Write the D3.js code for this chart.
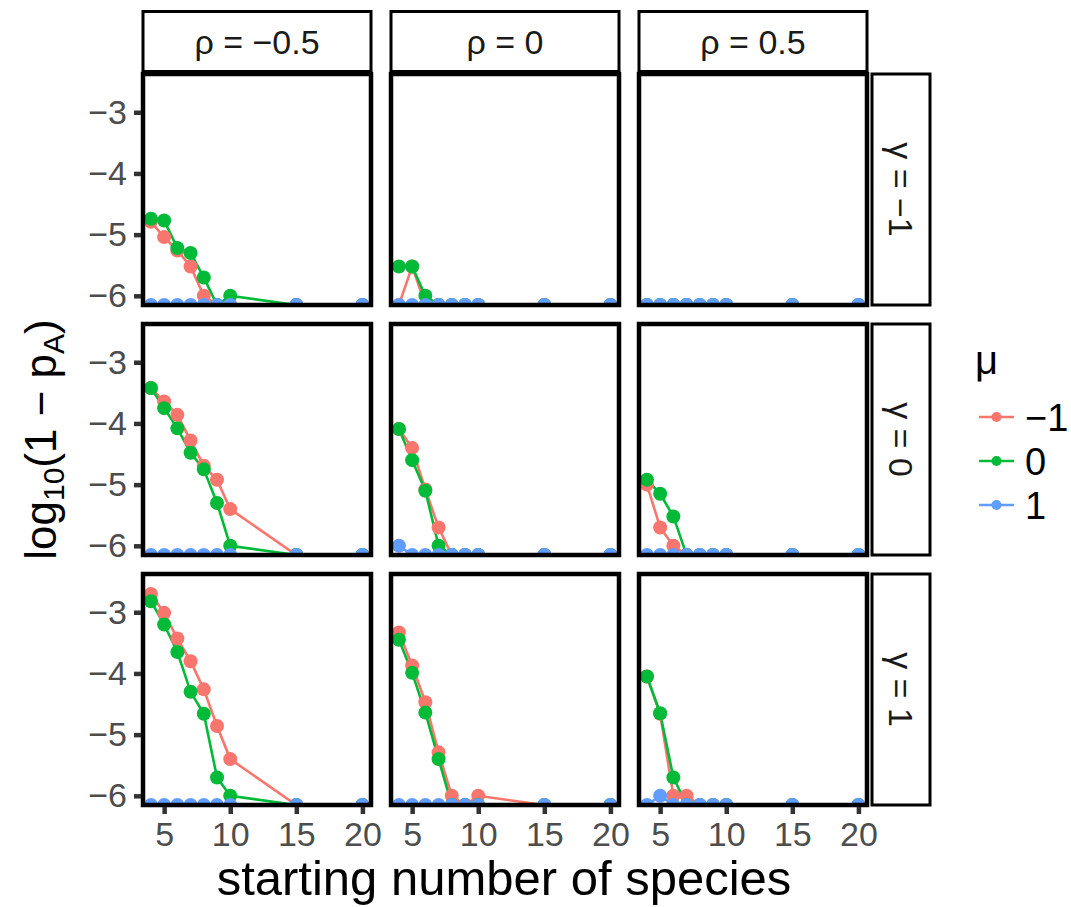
<!DOCTYPE html>
<html>
<head>
<meta charset="utf-8">
<script src="https://cdn.jsdelivr.net/npm/d3@7"></script>
<style>
  body { margin: 0; background: #fff; }
  text { font-family: 'Liberation Sans', Arial, sans-serif; }
</style>
</head>
<body>
<svg id="chart"></svg>
<script>
const startSpecies = [4, 5, 6, 7, 8, 9, 10, 15, 20]
const rhoLabels = ['ρ = −0.5', 'ρ = 0', 'ρ = 0.5']
const gammaLabels = ['γ = −1', 'γ = 0', 'γ = 1']
const muLabels = ['−1', '0', '1']
const muColors = ['#F8766D', '#00BA38', '#619CFF']
const yTicks = [-3, -4, -5, -6]
const xTicks = [5, 10, 15, 20]

// one row per panel: gamma -1 (rho -0.5, 0, 0.5), gamma 0 (...), gamma 1 (...)
// -6.15 sits on the floor of the y range
const muMinus1 = [
  [-4.79, -5.04, -5.26, -5.52, -6.0, -6.15, -6.15, -6.15, -6.15],
  [-6.15, -5.52, -6.15, -6.15, -6.15, -6.15, -6.15, -6.15, -6.15],
  [-6.15, -6.15, -6.15, -6.15, -6.15, -6.15, -6.15, -6.15, -6.15],
  [-3.42, -3.64, -3.86, -4.28, -4.69, -4.92, -5.40, -6.15, -6.15],
  [-4.09, -4.40, -5.08, -5.70, -6.15, -6.15, -6.15, -6.15, -6.15],
  [-5.00, -5.70, -6.00, -6.15, -6.15, -6.15, -6.15, -6.15, -6.15],
  [-2.70, -3.01, -3.43, -3.80, -4.26, -4.86, -5.40, -6.15, -6.15],
  [-3.33, -3.87, -4.47, -5.29, -6.00, -6.15, -6.00, -6.15, -6.15],
  [-4.05, -4.66, -6.00, -6.00, -6.15, -6.15, -6.15, -6.15, -6.15]
]
const muZero = [
  [-4.74, -4.77, -5.22, -5.30, -5.70, -6.15, -6.00, -6.15, -6.15],
  [-5.52, -5.52, -6.00, -6.15, -6.15, -6.15, -6.15, -6.15, -6.15],
  [-6.15, -6.15, -6.15, -6.15, -6.15, -6.15, -6.15, -6.15, -6.15],
  [-3.42, -3.75, -4.08, -4.48, -4.75, -5.30, -6.00, -6.15, -6.15],
  [-4.09, -4.60, -5.10, -6.00, -6.15, -6.15, -6.15, -6.15, -6.15],
  [-4.92, -5.15, -5.52, -6.15, -6.15, -6.15, -6.15, -6.15, -6.15],
  [-2.82, -3.20, -3.65, -4.30, -4.66, -5.70, -6.00, -6.15, -6.15],
  [-3.45, -3.99, -4.64, -5.40, -6.15, -6.15, -6.15, -6.15, -6.15],
  [-4.05, -4.65, -5.70, -6.15, -6.15, -6.15, -6.15, -6.15, -6.15]
]
const muPlus1 = [
  [-6.15, -6.15, -6.15, -6.15, -6.15, -6.15, -6.15, -6.15, -6.15],
  [-6.15, -6.15, -6.15, -6.15, -6.15, -6.15, -6.15, -6.15, -6.15],
  [-6.15, -6.15, -6.15, -6.15, -6.15, -6.15, -6.15, -6.15, -6.15],
  [-6.15, -6.15, -6.15, -6.15, -6.15, -6.15, -6.15, -6.15, -6.15],
  [-6.00, -6.15, -6.15, -6.15, -6.15, -6.15, -6.15, -6.15, -6.15],
  [-6.15, -6.15, -6.15, -6.15, -6.15, -6.15, -6.15, -6.15, -6.15],
  [-6.15, -6.15, -6.15, -6.15, -6.15, -6.15, -6.15, -6.15, -6.15],
  [-6.15, -6.15, -6.15, -6.15, -6.15, -6.15, -6.15, -6.15, -6.15],
  [-6.15, -6.00, -6.15, -6.15, -6.15, -6.15, -6.15, -6.15, -6.15]
]
const series = [muMinus1, muZero, muPlus1]

const width = 1071
const height = 907
const svg = d3.select('#chart').attr('width', width).attr('height', height)

const panelW = 228
const panelH = 231
const colX = c => 143 + c * 248
const rowY = r => 74 + r * 250

const x = d3.scaleLinear().domain([3.4, 20.65]).range([0, panelW])
const y = d3.scaleLinear().domain([-6.15, -2.375]).range([panelH, 0])
const line = d3.line().x((d, i) => x(startSpecies[i])).y(d => y(d))

// Panels
for (let p = 0; p < 9; p++) {
  const r = Math.floor(p / 3)
  const c = p % 3
  const g = svg.append('g').attr('transform', `translate(${colX(c)},${rowY(r)})`)

  svg.append('clipPath').attr('id', `clip${p}`)
    .append('rect').attr('width', panelW).attr('height', panelH)

  const inner = g.append('g').attr('clip-path', `url(#clip${p})`)
  inner.append('rect').attr('width', panelW).attr('height', panelH).attr('fill', 'white')

  series.forEach((s, k) => {
    inner.append('path')
      .attr('d', line(s[p]))
      .attr('fill', 'none')
      .attr('stroke', muColors[k])
      .attr('stroke-width', 2.6)
  })
  series.forEach((s, k) => {
    inner.selectAll(`circle.mu${k}`)
      .data(s[p])
      .enter()
      .append('circle')
      .attr('class', `mu${k}`)
      .attr('cx', (d, i) => x(startSpecies[i]))
      .attr('cy', d => y(d))
      .attr('r', 7)
      .attr('fill', muColors[k])
  })

  g.append('rect')
    .attr('width', panelW).attr('height', panelH)
    .attr('fill', 'none').attr('stroke', 'black').attr('stroke-width', 4.5)
}

// Column strips
rhoLabels.forEach((lab, c) => {
  const g = svg.append('g').attr('transform', `translate(${colX(c)},11.5)`)
  g.append('rect').attr('width', panelW).attr('height', 60)
    .attr('fill', 'white').attr('stroke', 'black').attr('stroke-width', 3)
  g.append('text').attr('x', panelW / 2).attr('y', 30).attr('dy', '0.36em')
    .attr('text-anchor', 'middle').attr('font-size', 34).attr('fill', '#1a1a1a')
    .text(lab)
})

// Row strips
gammaLabels.forEach((lab, r) => {
  const g = svg.append('g').attr('transform', `translate(872,${rowY(r)})`)
  g.append('rect').attr('width', 58).attr('height', panelH)
    .attr('fill', 'white').attr('stroke', 'black').attr('stroke-width', 3)
  g.append('text')
    .attr('transform', `translate(29,${panelH / 2}) rotate(90)`)
    .attr('dy', '0.36em')
    .attr('text-anchor', 'middle').attr('font-size', 34).attr('fill', '#1a1a1a')
    .text(lab)
})

// Axes
const styleAxis = ax => {
  ax.select('.domain').remove()
  ax.selectAll('.tick line').attr('stroke', '#333').attr('stroke-width', 4.5)
  ax.selectAll('.tick text').attr('fill', '#4d4d4d').attr('font-size', 34)
    .style('font-family', "'Liberation Sans', Arial, sans-serif")
}

for (let r = 0; r < 3; r++) {
  svg.append('g')
    .attr('transform', `translate(141,${rowY(r)})`)
    .call(d3.axisLeft(y).tickValues(yTicks).tickFormat(d3.format('d'))
      .tickSize(7).tickPadding(7))
    .call(styleAxis)
}
for (let c = 0; c < 3; c++) {
  svg.append('g')
    .attr('transform', `translate(${colX(c)},${rowY(2) + panelH + 2})`)
    .call(d3.axisBottom(x).tickValues(xTicks).tickFormat(d3.format('d'))
      .tickSize(7).tickPadding(8))
    .call(styleAxis)
}

// Axis titles
svg.append('text')
  .attr('x', 504).attr('y', 895)
  .attr('text-anchor', 'middle').attr('font-size', 49)
  .text('starting number of species')

const yTitle = svg.append('text')
  .attr('transform', `translate(56,${rowY(1) + panelH / 2}) rotate(-90)`)
  .attr('text-anchor', 'middle').attr('font-size', 44)
yTitle.append('tspan').text('log')
yTitle.append('tspan').attr('font-size', 30).attr('dy', 8).text('10')
yTitle.append('tspan').attr('dy', -8).text('(1 − p')
yTitle.append('tspan').attr('font-size', 30).attr('dy', 8).text('A')
yTitle.append('tspan').attr('dy', -8).text(')')

// Legend
const legend = svg.append('g').attr('transform', 'translate(975,0)')
legend.append('text').attr('x', 0).attr('y', 374).attr('font-size', 40).text('μ')
muLabels.forEach((lab, k) => {
  const cy = 417 + k * 44
  legend.append('line').attr('x1', 4).attr('x2', 39).attr('y1', cy).attr('y2', cy)
    .attr('stroke', muColors[k]).attr('stroke-width', 2.6)
  legend.append('circle').attr('cx', 21.5).attr('cy', cy).attr('r', 5).attr('fill', muColors[k])
  legend.append('text').attr('x', 50).attr('y', cy).attr('dy', '0.36em')
    .attr('font-size', 38).text(lab)
})
</script>
</body>
</html>
